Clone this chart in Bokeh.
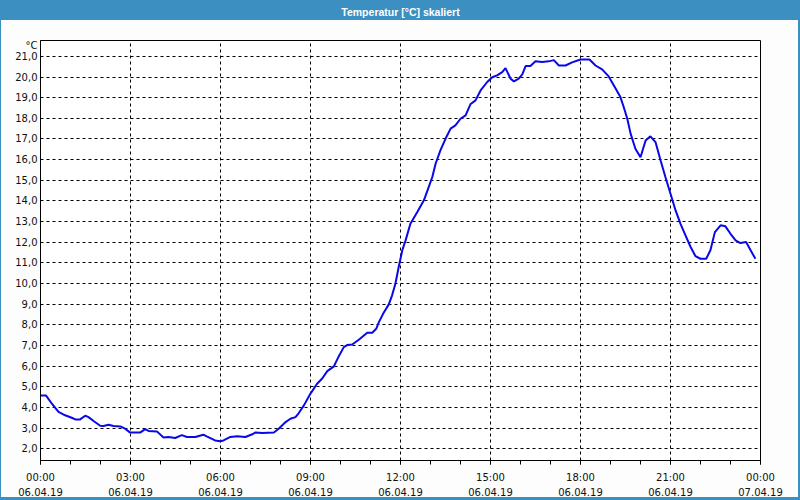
from bokeh.plotting import figure
from bokeh.layouts import column
from bokeh.models import Range1d, FixedTicker
from bokeh.core.properties import value
from bokeh.embed import file_html
from bokeh.resources import INLINE

# --- data (hours since 06.04.19 00:00, temperature in °C) ---
hours = [0.0, 0.18, 0.38, 0.6, 0.82, 1.04, 1.16, 1.32, 1.49, 1.6, 1.77, 1.99, 2.1, 2.27, 2.43,
         2.66, 2.82, 2.99, 3.32, 3.49, 3.6, 3.88, 4.1, 4.27, 4.49, 4.71, 4.88, 5.16, 5.43, 5.54,
         5.82, 5.99, 6.1, 6.33, 6.56, 6.83, 7.06, 7.17, 7.39, 7.78, 7.94, 8.17, 8.33, 8.5, 8.61,
         8.78, 9.0, 9.22, 9.39, 9.56, 9.78, 9.94, 10.11, 10.22, 10.39, 10.61, 10.89, 11.06, 11.19,
         11.28, 11.44, 11.61, 11.72, 11.83, 11.94, 12.06, 12.17, 12.33, 12.56, 12.78, 12.94, 13.06,
         13.17, 13.33, 13.5, 13.67, 13.83, 14.0, 14.17, 14.33, 14.5, 14.67, 14.89, 15.06, 15.22,
         15.39, 15.5, 15.67, 15.78, 15.94, 16.06, 16.17, 16.33, 16.5, 16.72, 16.94, 17.11, 17.28,
         17.5, 17.72, 18.0, 18.3, 18.5, 18.72, 18.94, 19.17, 19.33, 19.44, 19.56, 19.67, 19.83,
         20.0, 20.17, 20.33, 20.5, 20.67, 20.83, 21.0, 21.17, 21.33, 21.5, 21.67, 21.83, 22.0,
         22.19, 22.33, 22.48, 22.67, 22.83, 23.0, 23.17, 23.33, 23.52, 23.67, 23.83]
temps = [4.58, 4.58, 4.18, 3.78, 3.62, 3.50, 3.42, 3.42, 3.60, 3.53, 3.34, 3.11, 3.10, 3.16, 3.10,
         3.08, 2.97, 2.78, 2.78, 2.95, 2.86, 2.84, 2.54, 2.57, 2.52, 2.66, 2.57, 2.57, 2.68, 2.60,
         2.40, 2.36, 2.40, 2.57, 2.61, 2.57, 2.70, 2.79, 2.76, 2.79, 2.97, 3.29, 3.45, 3.53, 3.73,
         4.10, 4.67, 5.15, 5.40, 5.76, 5.99, 6.47, 6.92, 7.02, 7.05, 7.28, 7.62, 7.62, 7.81,
         8.13, 8.59, 8.99, 9.43, 9.99, 10.80, 11.61, 12.09, 12.90, 13.46, 14.03, 14.67, 15.16,
         15.80, 16.45, 17.01, 17.50, 17.66, 17.98, 18.14, 18.68, 18.87, 19.35, 19.76, 19.99, 20.08,
         20.24, 20.43, 19.92, 19.79, 19.92, 20.13, 20.53, 20.53, 20.76, 20.73, 20.76, 20.82, 20.56,
         20.56, 20.71, 20.85, 20.85, 20.56, 20.37, 20.03, 19.44, 19.03, 18.55, 17.98, 17.26, 16.53,
         16.12, 16.93, 17.13, 16.85, 15.96, 15.16, 14.35, 13.54, 12.90, 12.33, 11.77, 11.33, 11.20,
         11.20, 11.61, 12.49, 12.82, 12.77, 12.41, 12.09, 11.96, 12.01, 11.61, 11.20]

x_tick_hours = [0, 3, 6, 9, 12, 15, 18, 21, 24]
x_tick_labels = ["00:00\n06.04.19", "03:00\n06.04.19", "06:00\n06.04.19", "09:00\n06.04.19",
                 "12:00\n06.04.19", "15:00\n06.04.19", "18:00\n06.04.19", "21:00\n06.04.19",
                 "00:00\n07.04.19"]
y_ticks = list(range(2, 22))
y_tick_labels = [f"{v},0" for v in y_ticks]
unit_label = "°C"
unit_pos = 21.53
title_text = "Temperatur [°C] skaliert"

FONT = "DejaVu Sans"
BAR = "#3c8fc1"
WIN_BG = "#fcfdfc"

# ---- title bar ----
hdr = figure(width=800, height=20, output_backend="svg", toolbar_location=None,
             x_range=Range1d(0, 1), y_range=Range1d(0, 1),
             x_axis_location=None, y_axis_location=None,
             min_border=0, min_border_left=0, min_border_right=0,
             min_border_top=0, min_border_bottom=0)
hdr.grid.visible = False
hdr.outline_line_color = None
hdr.background_fill_alpha = 0.0
hdr.border_fill_alpha = 0.0
hdr.styles = {"background-color": BAR}
hdr.text(x=[0.5], y=[0.45], text=[title_text], text_align="center", text_baseline="middle",
         text_color="white", text_font=value("Liberation Sans"), text_font_style="bold",
         text_font_size="10.5px")

# ---- main chart ----
p = figure(width=800, height=480, output_backend="svg", toolbar_location=None,
           x_range=Range1d(0, 24), y_range=Range1d(1.43, 21.77),
           min_border_left=40, min_border_right=40, min_border_top=20, min_border_bottom=40)
p.background_fill_color = "white"
p.border_fill_color = WIN_BG
p.border_fill_alpha = 0.0
p.styles = {"background-color": WIN_BG,
            "box-shadow": f"inset 1px 0 0 {BAR}, inset -2px 0 0 {BAR}, inset 0 -3px 0 {BAR}"}
p.outline_line_color = "black"
p.outline_line_width = 1

p.line(hours, temps, line_color="#0808e8", line_width=2)

# x axis
xa = p.xaxis[0]
xa.ticker = FixedTicker(ticks=x_tick_hours, minor_ticks=list(range(0, 25)))
xa.major_label_overrides = {float(h): lab for h, lab in zip(x_tick_hours, x_tick_labels)}
xa.major_tick_in = 0
xa.major_tick_out = 4
xa.minor_tick_in = 0
xa.minor_tick_out = 4
xa.major_label_standoff = 7
xa.axis_line_color = "black"
xa.major_tick_line_color = "black"
xa.minor_tick_line_color = "black"
xa.major_label_text_font = FONT
xa.major_label_text_font_size = "10px"
xa.major_label_text_color = "#111111"
xa.major_label_text_line_height = 1.4

# y axis
ya = p.yaxis[0]
ya.ticker = FixedTicker(ticks=[float(v) for v in y_ticks] + [unit_pos], minor_ticks=[])
overrides = {float(v): lab for v, lab in zip(y_ticks, y_tick_labels)}
overrides[unit_pos] = unit_label
ya.major_label_overrides = overrides
ya.major_tick_in = 0
ya.major_tick_out = 0
ya.minor_tick_out = 0
ya.major_label_standoff = 3
ya.axis_line_color = "black"
ya.major_label_text_font = FONT
ya.major_label_text_font_size = "10px"
ya.major_label_text_color = "#111111"

# grids
p.xgrid.ticker = FixedTicker(ticks=x_tick_hours[1:-1])
p.ygrid.ticker = FixedTicker(ticks=[float(v) for v in y_ticks])
for g in (p.xgrid[0], p.ygrid[0]):
    g.grid_line_color = "black"
    g.grid_line_dash = "3 3"
    g.grid_line_width = 1
    g.grid_line_alpha = 1.0

layout = column(hdr, p, spacing=0)
open("out.html", "w").write(file_html(layout, INLINE))
